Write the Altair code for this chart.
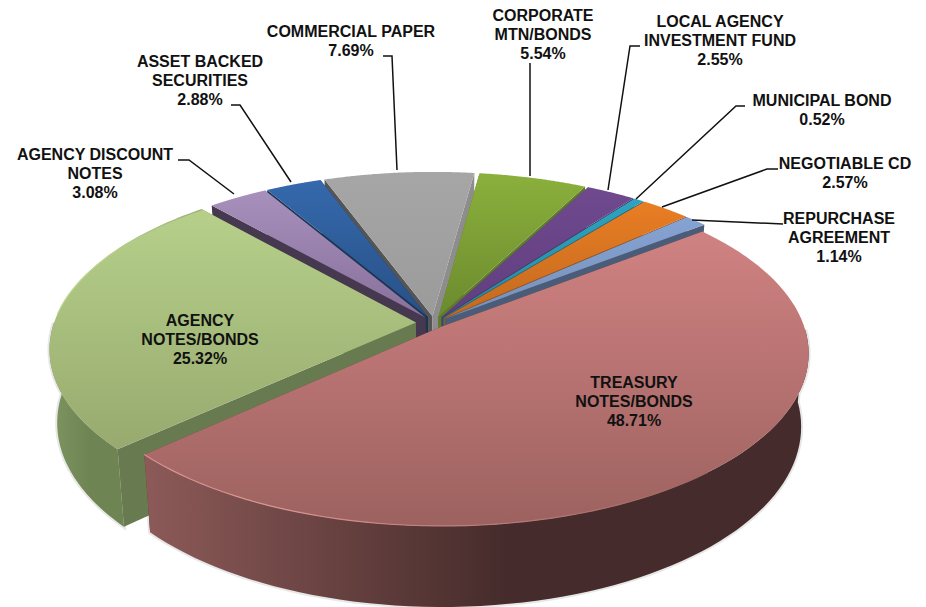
import math
import altair as alt

categories = ["TREASURY NOTES/BONDS", "AGENCY NOTES/BONDS", "AGENCY DISCOUNT NOTES", "ASSET BACKED SECURITIES",
              "COMMERCIAL PAPER", "CORPORATE MTN/BONDS", "LOCAL AGENCY INVESTMENT FUND", "MUNICIPAL BOND",
              "NEGOTIABLE CD", "REPURCHASE AGREEMENT"]
shares = [48.71, 25.32, 3.08, 2.88, 7.69, 5.54, 2.55, 0.52, 2.57, 1.14]
share_text = ["48.71%", "25.32%", "3.08%", "2.88%", "7.69%", "5.54%", "2.55%", "0.52%", "2.57%", "1.14%"]
label_lines = [["TREASURY", "NOTES/BONDS"], ["AGENCY", "NOTES/BONDS"], ["AGENCY DISCOUNT", "NOTES"],
               ["ASSET BACKED", "SECURITIES"], ["COMMERCIAL PAPER"], ["CORPORATE", "MTN/BONDS"],
               ["LOCAL AGENCY", "INVESTMENT FUND"], ["MUNICIPAL BOND"], ["NEGOTIABLE CD"], ["REPURCHASE", "AGREEMENT"]]
explode = [0.03, 0.05, 0.04, 0.04, 0.04, 0.04, 0.04, 0.04, 0.04, 0.04]

top_hi = ["#d08282", "#b6d08a", "#a890bd", "#3569ad", "#a6a6a6", "#8bb03c", "#70498f", "#2ea3bf", "#e97d23", "#85a3d3"]
top_lo = ["#9c625f", "#98aa6f", "#87709a", "#285086", "#9b9b9b", "#6c8a2e", "#5f3f7e", "#268aa1", "#c26a20", "#7790ba"]
wall_left = ["#8c5a58", "#7e9562", "#45384f", "#1b3654", "#5a5a5a", "#5e7a2b", "#4c3465", "#1d6c80", "#9a5318", "#4a5c78"]
wall_right = ["#452b2b", "#6e8553", "#45384f", "#1b3654", "#8d8d8d", "#5e7a2b", "#4c3465", "#1d6c80", "#9a5318", "#4a5c78"]
lo_wall = ["#5a3a3a", "#677a50", "#45384f", "#1b3654", "#555555", "#5e7a2b", "#4c3465", "#1d6c80", "#9a5318", "#4a5c78"]
hi_wall = ["#5a3a3a", "#677a50", "#45384f", "#1b3654", "#8d8d8d", "#5e7a2b", "#4c3465", "#1d6c80", "#9a5318", "#4a5c78"]
rim_hi = ["#d9938f", "#bfd594"]

start_angle = 52.0
paint_order = [4, 5, 3, 6, 2, 7, 8, 9, 1, 0]

# view of the tilted disc
CX, CY, A, B, K, H, S = 434.0, 323.0, 362.0, 168.0, 0.15, 72.0, 0.98


def project(X, Y, bottom=False):
    d = 1 + K * Y
    x, y = A * X / d, -B * Y / d
    if bottom:
        x, y = x * S, y * S + H / d
    return [CX + x, CY + y]


def ring(i, lo, hi, bottom=False, steps=90):
    m = math.radians((lo + hi) / 2)
    ox, oy = explode[i] * math.sin(m), explode[i] * math.cos(m)
    pts = []
    for n in range(steps + 1):
        t = math.radians(lo + (hi - lo) * n / steps)
        pts.append(project(ox + math.sin(t), oy + math.cos(t), bottom))
    return pts, project(ox, oy, bottom)


def poly(points):
    return {"type": "Feature", "properties": {},
            "geometry": {"type": "Polygon", "coordinates": [points + [points[0]]]}}


PROJ = dict(type="identity", scale=1, translate=[-8, -8])


def shape(points, fill, halo=None):
    opts = dict(filled=True, fill=fill, strokeWidth=0)
    if halo:
        opts.update(stroke=halo, strokeWidth=4, strokeOpacity=0.7)
    return alt.Chart(alt.Data(values=[poly(points)])).mark_geoshape(**opts).project(**PROJ)


def stroke_line(points, stroke):
    feat = {"type": "Feature", "properties": {}, "geometry": {"type": "LineString", "coordinates": points}}
    return alt.Chart(alt.Data(values=[feat])).mark_geoshape(filled=False, stroke=stroke, strokeWidth=1.2).project(**PROJ)


def vgrad(a, b):
    return {"gradient": "linear", "x1": 0, "y1": 0, "x2": 0, "y2": 1,
            "stops": [{"offset": 0, "color": a}, {"offset": 1, "color": b}]}


def hgrad(a, b):
    return {"gradient": "linear", "x1": 0, "y1": 0, "x2": 1, "y2": 0,
            "stops": [{"offset": 0, "color": a}, {"offset": 0.55, "color": b}, {"offset": 1, "color": b}]}


bounds = []
run = start_angle
for v in shares:
    bounds.append((run, run + v * 3.6))
    run += v * 3.6

layers = []
for i in paint_order:
    lo, hi = bounds[i]
    t_arc, t_c = ring(i, lo, hi)
    b_arc, b_c = ring(i, lo, hi, True)
    idx = [n for n in range(len(t_arc)) if 90 <= lo + (hi - lo) * n / 90 <= 270]
    if idx:
        front_t = [t_arc[n] for n in idx]
        front_b = [b_arc[n] for n in idx]
        layers.insert(0, shape(front_t + front_b[::-1], "#d8d8d8", halo="#dddddd"))
    layers.append(shape([t_c, t_arc[0], b_arc[0], b_c], lo_wall[i]))
    layers.append(shape([t_c, t_arc[-1], b_arc[-1], b_c], hi_wall[i]))
    if idx:
        layers.append(shape(front_t + front_b[::-1], hgrad(wall_left[i], wall_right[i])))
    layers.append(shape(t_arc + [t_c], vgrad(top_hi[i], top_lo[i])))
    if idx:
        rim = t_arc[len(t_arc) // 2:]
        layers.append(stroke_line(rim, {"gradient": "linear", "x1": 1, "y1": 0, "x2": 0, "y2": 0,
                                        "stops": [{"offset": 0, "color": top_lo[i]},
                                                  {"offset": 0.75, "color": rim_hi[i]},
                                                  {"offset": 1, "color": rim_hi[i]}]}))

# layout of the labels, in page pixels: centre x and middle of the first line
label_x = [634, 200, 95, 200, 351, 543, 720, 822, 845, 839]
label_y = [383, 321, 155, 62, 32, 16, 22, 101, 164, 219]
LINE = 19.2

label_rows = []
for i, c in enumerate(categories):
    rows = label_lines[i] + [share_text[i]]
    for r, t in enumerate(rows):
        label_rows.append({"x": label_x[i] - 8, "y": label_y[i] - 8 + r * LINE, "t": t})

text = alt.Chart(alt.Data(values=label_rows)).mark_text(
    font="Liberation Sans", fontWeight="bold", fontSize=16, color="#111111", align="center", baseline="middle"
).encode(x=alt.X("x:Q", scale=None), y=alt.Y("y:Q", scale=None), text="t:N")

leaders = [
    [(383, 56), (392, 56), (397, 170)],
    [(231, 105), (240, 105), (291, 182)],
    [(178, 160), (189, 160), (234, 194)],
    [(530, 63), (530, 176)],
    [(640, 46), (630, 46), (608, 190)],
    [(745, 106), (736, 106), (636, 199)],
    [(778, 169), (767, 169), (662, 207)],
    [(783, 224), (692, 220)],
]
leader_rows = [{"x": p[0] - 8, "y": p[1] - 8, "k": k, "o": o}
               for k, line in enumerate(leaders) for o, p in enumerate(line)]
lines = alt.Chart(alt.Data(values=leader_rows)).mark_line(color="#111111", strokeWidth=1.5).encode(
    x=alt.X("x:Q", scale=None), y=alt.Y("y:Q", scale=None), detail="k:N", order="o:Q")

chart = alt.layer(*layers, lines, text).properties(width=910, height=599, padding=0, autosize="none", background="white").configure_view(stroke=None)
chart.save("out.html", embed_options={"renderer": "svg", "actions": False})
